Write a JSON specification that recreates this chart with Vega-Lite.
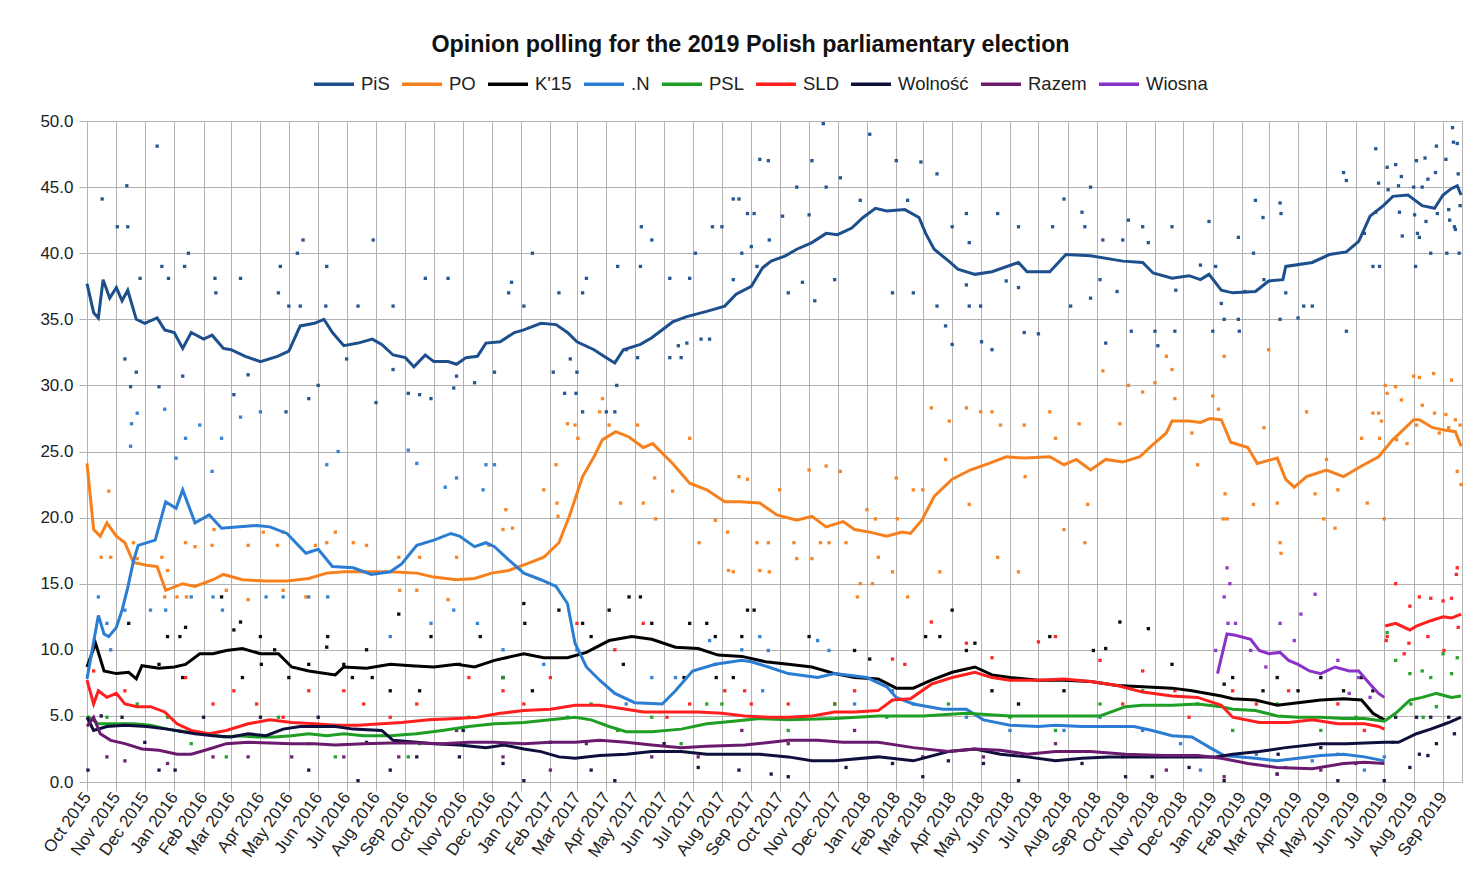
{
"$schema": "https://vega.github.io/schema/vega-lite/v6.json",
"autosize": {"type": "none"},
"width": 1375,
"height": 661,
"padding": {"left": 87, "top": 121, "right": 12, "bottom": 114},
"background": "white",
"title": {"text": "Opinion polling for the 2019 Polish parliamentary election", "font": "Liberation Sans", "fontSize": 23.3, "fontWeight": "bold", "color": "#111111", "anchor": "middle", "dx": -24, "offset": 5},
"config": {"font": "Liberation Sans", "view": {"stroke": "#b3b3b3", "strokeWidth": 1}},
"datasets": {
"lines": [
{"t":"2015-10-01","p":"PiS","v":37.7},{"t":"2015-10-08","p":"PiS","v":35.5},{"t":"2015-10-13","p":"PiS","v":35.1},{"t":"2015-10-18","p":"PiS","v":38},{"t":"2015-10-25","p":"PiS","v":36.6},{"t":"2015-11-01","p":"PiS","v":37.4},{"t":"2015-11-07","p":"PiS","v":36.4},{"t":"2015-11-13","p":"PiS","v":37.2},{"t":"2015-11-22","p":"PiS","v":35},{"t":"2015-12-01","p":"PiS","v":34.7},{"t":"2015-12-14","p":"PiS","v":35.1},{"t":"2015-12-22","p":"PiS","v":34.2},{"t":"2016-01-01","p":"PiS","v":34},{"t":"2016-01-10","p":"PiS","v":32.8},{"t":"2016-01-19","p":"PiS","v":34},{"t":"2016-02-01","p":"PiS","v":33.5},{"t":"2016-02-10","p":"PiS","v":33.8},{"t":"2016-02-22","p":"PiS","v":32.8},{"t":"2016-03-01","p":"PiS","v":32.7},{"t":"2016-03-16","p":"PiS","v":32.2},{"t":"2016-04-01","p":"PiS","v":31.8},{"t":"2016-04-19","p":"PiS","v":32.2},{"t":"2016-05-01","p":"PiS","v":32.6},{"t":"2016-05-13","p":"PiS","v":34.5},{"t":"2016-05-28","p":"PiS","v":34.7},{"t":"2016-06-07","p":"PiS","v":35},{"t":"2016-06-16","p":"PiS","v":34},{"t":"2016-06-28","p":"PiS","v":33},{"t":"2016-07-13","p":"PiS","v":33.2},{"t":"2016-07-28","p":"PiS","v":33.5},{"t":"2016-08-07","p":"PiS","v":33.1},{"t":"2016-08-19","p":"PiS","v":32.3},{"t":"2016-09-01","p":"PiS","v":32.1},{"t":"2016-09-10","p":"PiS","v":31.4},{"t":"2016-09-22","p":"PiS","v":32.3},{"t":"2016-10-01","p":"PiS","v":31.8},{"t":"2016-10-16","p":"PiS","v":31.8},{"t":"2016-10-25","p":"PiS","v":31.6},{"t":"2016-11-04","p":"PiS","v":32.1},{"t":"2016-11-16","p":"PiS","v":32.2},{"t":"2016-11-25","p":"PiS","v":33.2},{"t":"2016-12-10","p":"PiS","v":33.3},{"t":"2016-12-25","p":"PiS","v":34},{"t":"2017-01-04","p":"PiS","v":34.2},{"t":"2017-01-22","p":"PiS","v":34.7},{"t":"2017-02-07","p":"PiS","v":34.6},{"t":"2017-02-19","p":"PiS","v":34},{"t":"2017-03-01","p":"PiS","v":33.3},{"t":"2017-03-19","p":"PiS","v":32.7},{"t":"2017-04-01","p":"PiS","v":32.1},{"t":"2017-04-10","p":"PiS","v":31.7},{"t":"2017-04-19","p":"PiS","v":32.7},{"t":"2017-05-07","p":"PiS","v":33.1},{"t":"2017-05-19","p":"PiS","v":33.6},{"t":"2017-06-10","p":"PiS","v":34.8},{"t":"2017-06-25","p":"PiS","v":35.2},{"t":"2017-07-16","p":"PiS","v":35.6},{"t":"2017-08-04","p":"PiS","v":36},{"t":"2017-08-16","p":"PiS","v":36.9},{"t":"2017-09-01","p":"PiS","v":37.5},{"t":"2017-09-13","p":"PiS","v":38.9},{"t":"2017-09-22","p":"PiS","v":39.4},{"t":"2017-10-07","p":"PiS","v":39.8},{"t":"2017-10-19","p":"PiS","v":40.3},{"t":"2017-11-04","p":"PiS","v":40.8},{"t":"2017-11-19","p":"PiS","v":41.5},{"t":"2017-12-01","p":"PiS","v":41.4},{"t":"2017-12-16","p":"PiS","v":41.9},{"t":"2017-12-28","p":"PiS","v":42.7},{"t":"2018-01-10","p":"PiS","v":43.4},{"t":"2018-01-22","p":"PiS","v":43.2},{"t":"2018-02-10","p":"PiS","v":43.3},{"t":"2018-02-25","p":"PiS","v":42.7},{"t":"2018-03-04","p":"PiS","v":41.5},{"t":"2018-03-13","p":"PiS","v":40.3},{"t":"2018-03-30","p":"PiS","v":39.3},{"t":"2018-04-07","p":"PiS","v":38.8},{"t":"2018-04-25","p":"PiS","v":38.4},{"t":"2018-05-13","p":"PiS","v":38.6},{"t":"2018-06-10","p":"PiS","v":39.3},{"t":"2018-06-19","p":"PiS","v":38.6},{"t":"2018-07-13","p":"PiS","v":38.6},{"t":"2018-07-30","p":"PiS","v":39.9},{"t":"2018-08-25","p":"PiS","v":39.8},{"t":"2018-09-28","p":"PiS","v":39.4},{"t":"2018-10-19","p":"PiS","v":39.3},{"t":"2018-10-30","p":"PiS","v":38.5},{"t":"2018-11-19","p":"PiS","v":38.1},{"t":"2018-12-07","p":"PiS","v":38.3},{"t":"2018-12-19","p":"PiS","v":38},{"t":"2018-12-28","p":"PiS","v":38.4},{"t":"2019-01-10","p":"PiS","v":37.2},{"t":"2019-01-22","p":"PiS","v":37},{"t":"2019-02-15","p":"PiS","v":37.1},{"t":"2019-03-01","p":"PiS","v":37.9},{"t":"2019-03-16","p":"PiS","v":38},{"t":"2019-03-19","p":"PiS","v":39},{"t":"2019-04-16","p":"PiS","v":39.3},{"t":"2019-05-04","p":"PiS","v":39.9},{"t":"2019-05-22","p":"PiS","v":40.1},{"t":"2019-06-04","p":"PiS","v":40.9},{"t":"2019-06-16","p":"PiS","v":42.8},{"t":"2019-06-30","p":"PiS","v":43.6},{"t":"2019-07-10","p":"PiS","v":44.3},{"t":"2019-07-26","p":"PiS","v":44.4},{"t":"2019-08-10","p":"PiS","v":43.6},{"t":"2019-08-23","p":"PiS","v":43.4},{"t":"2019-09-01","p":"PiS","v":44.4},{"t":"2019-09-10","p":"PiS","v":44.9},{"t":"2019-09-16","p":"PiS","v":45.1},{"t":"2019-09-20","p":"PiS","v":44.4},
{"t":"2015-10-01","p":"PO","v":24.1},{"t":"2015-10-08","p":"PO","v":19.1},{"t":"2015-10-15","p":"PO","v":18.6},{"t":"2015-10-22","p":"PO","v":19.6},{"t":"2015-11-01","p":"PO","v":18.6},{"t":"2015-11-10","p":"PO","v":18.1},{"t":"2015-11-19","p":"PO","v":16.6},{"t":"2015-12-03","p":"PO","v":16.4},{"t":"2015-12-14","p":"PO","v":16.3},{"t":"2015-12-23","p":"PO","v":14.5},{"t":"2016-01-10","p":"PO","v":15},{"t":"2016-01-23","p":"PO","v":14.8},{"t":"2016-02-11","p":"PO","v":15.3},{"t":"2016-02-22","p":"PO","v":15.7},{"t":"2016-03-13","p":"PO","v":15.3},{"t":"2016-04-07","p":"PO","v":15.2},{"t":"2016-04-29","p":"PO","v":15.2},{"t":"2016-05-22","p":"PO","v":15.4},{"t":"2016-06-10","p":"PO","v":15.8},{"t":"2016-06-28","p":"PO","v":15.9},{"t":"2016-07-22","p":"PO","v":15.9},{"t":"2016-08-16","p":"PO","v":15.9},{"t":"2016-09-13","p":"PO","v":15.8},{"t":"2016-10-01","p":"PO","v":15.5},{"t":"2016-10-25","p":"PO","v":15.3},{"t":"2016-11-13","p":"PO","v":15.4},{"t":"2016-12-01","p":"PO","v":15.8},{"t":"2016-12-19","p":"PO","v":16},{"t":"2017-01-07","p":"PO","v":16.5},{"t":"2017-01-25","p":"PO","v":17},{"t":"2017-02-10","p":"PO","v":18.1},{"t":"2017-02-21","p":"PO","v":20.1},{"t":"2017-03-07","p":"PO","v":23.1},{"t":"2017-03-19","p":"PO","v":24.6},{"t":"2017-03-28","p":"PO","v":25.9},{"t":"2017-04-11","p":"PO","v":26.5},{"t":"2017-04-25","p":"PO","v":26.1},{"t":"2017-05-10","p":"PO","v":25.3},{"t":"2017-05-20","p":"PO","v":25.6},{"t":"2017-06-10","p":"PO","v":24.1},{"t":"2017-06-28","p":"PO","v":22.6},{"t":"2017-07-16","p":"PO","v":22.1},{"t":"2017-08-04","p":"PO","v":21.2},{"t":"2017-08-20","p":"PO","v":21.2},{"t":"2017-09-10","p":"PO","v":21.1},{"t":"2017-09-28","p":"PO","v":20.2},{"t":"2017-10-19","p":"PO","v":19.8},{"t":"2017-11-04","p":"PO","v":20.1},{"t":"2017-11-19","p":"PO","v":19.3},{"t":"2017-12-07","p":"PO","v":19.7},{"t":"2017-12-19","p":"PO","v":19.1},{"t":"2018-01-04","p":"PO","v":18.9},{"t":"2018-01-22","p":"PO","v":18.6},{"t":"2018-02-07","p":"PO","v":18.9},{"t":"2018-02-16","p":"PO","v":18.8},{"t":"2018-02-28","p":"PO","v":19.8},{"t":"2018-03-13","p":"PO","v":21.6},{"t":"2018-04-01","p":"PO","v":22.9},{"t":"2018-04-20","p":"PO","v":23.6},{"t":"2018-05-10","p":"PO","v":24.1},{"t":"2018-05-28","p":"PO","v":24.6},{"t":"2018-06-16","p":"PO","v":24.5},{"t":"2018-07-13","p":"PO","v":24.6},{"t":"2018-07-28","p":"PO","v":24},{"t":"2018-08-10","p":"PO","v":24.4},{"t":"2018-08-25","p":"PO","v":23.6},{"t":"2018-09-10","p":"PO","v":24.4},{"t":"2018-09-28","p":"PO","v":24.2},{"t":"2018-10-16","p":"PO","v":24.6},{"t":"2018-10-28","p":"PO","v":25.4},{"t":"2018-11-13","p":"PO","v":26.4},{"t":"2018-11-19","p":"PO","v":27.3},{"t":"2018-12-07","p":"PO","v":27.3},{"t":"2018-12-19","p":"PO","v":27.2},{"t":"2018-12-29","p":"PO","v":27.5},{"t":"2019-01-10","p":"PO","v":27.4},{"t":"2019-01-20","p":"PO","v":25.7},{"t":"2019-02-07","p":"PO","v":25.3},{"t":"2019-02-17","p":"PO","v":24.1},{"t":"2019-03-10","p":"PO","v":24.5},{"t":"2019-03-19","p":"PO","v":22.9},{"t":"2019-03-28","p":"PO","v":22.3},{"t":"2019-04-10","p":"PO","v":23.1},{"t":"2019-05-01","p":"PO","v":23.6},{"t":"2019-05-19","p":"PO","v":23.1},{"t":"2019-06-07","p":"PO","v":23.9},{"t":"2019-06-25","p":"PO","v":24.6},{"t":"2019-07-10","p":"PO","v":25.9},{"t":"2019-07-16","p":"PO","v":26.3},{"t":"2019-08-01","p":"PO","v":27.4},{"t":"2019-08-07","p":"PO","v":27.4},{"t":"2019-08-21","p":"PO","v":26.8},{"t":"2019-09-04","p":"PO","v":26.6},{"t":"2019-09-14","p":"PO","v":26.5},{"t":"2019-09-20","p":"PO","v":25.4},
{"t":"2015-10-01","p":"K'15","v":8.7},{"t":"2015-10-10","p":"K'15","v":10.5},{"t":"2015-10-19","p":"K'15","v":8.4},{"t":"2015-11-01","p":"K'15","v":8.2},{"t":"2015-11-14","p":"K'15","v":8.3},{"t":"2015-11-22","p":"K'15","v":7.8},{"t":"2015-11-28","p":"K'15","v":8.8},{"t":"2015-12-16","p":"K'15","v":8.6},{"t":"2016-01-01","p":"K'15","v":8.7},{"t":"2016-01-13","p":"K'15","v":8.9},{"t":"2016-01-28","p":"K'15","v":9.7},{"t":"2016-02-11","p":"K'15","v":9.7},{"t":"2016-02-25","p":"K'15","v":9.95},{"t":"2016-03-13","p":"K'15","v":10.1},{"t":"2016-04-01","p":"K'15","v":9.7},{"t":"2016-04-20","p":"K'15","v":9.7},{"t":"2016-05-04","p":"K'15","v":8.7},{"t":"2016-05-22","p":"K'15","v":8.4},{"t":"2016-06-19","p":"K'15","v":8.1},{"t":"2016-06-28","p":"K'15","v":8.7},{"t":"2016-07-22","p":"K'15","v":8.6},{"t":"2016-08-16","p":"K'15","v":8.9},{"t":"2016-09-07","p":"K'15","v":8.8},{"t":"2016-10-01","p":"K'15","v":8.7},{"t":"2016-10-25","p":"K'15","v":8.9},{"t":"2016-11-13","p":"K'15","v":8.7},{"t":"2016-12-04","p":"K'15","v":9.2},{"t":"2017-01-04","p":"K'15","v":9.7},{"t":"2017-01-25","p":"K'15","v":9.4},{"t":"2017-02-19","p":"K'15","v":9.4},{"t":"2017-03-11","p":"K'15","v":9.8},{"t":"2017-04-04","p":"K'15","v":10.7},{"t":"2017-04-28","p":"K'15","v":11},{"t":"2017-05-19","p":"K'15","v":10.8},{"t":"2017-06-13","p":"K'15","v":10.2},{"t":"2017-07-07","p":"K'15","v":10.1},{"t":"2017-07-28","p":"K'15","v":9.6},{"t":"2017-08-22","p":"K'15","v":9.5},{"t":"2017-09-16","p":"K'15","v":9.1},{"t":"2017-10-10","p":"K'15","v":8.9},{"t":"2017-11-04","p":"K'15","v":8.7},{"t":"2017-11-28","p":"K'15","v":8.2},{"t":"2017-12-19","p":"K'15","v":7.9},{"t":"2018-01-13","p":"K'15","v":7.8},{"t":"2018-02-01","p":"K'15","v":7.1},{"t":"2018-02-19","p":"K'15","v":7.1},{"t":"2018-03-10","p":"K'15","v":7.7},{"t":"2018-04-01","p":"K'15","v":8.3},{"t":"2018-04-25","p":"K'15","v":8.7},{"t":"2018-05-13","p":"K'15","v":8.1},{"t":"2018-06-01","p":"K'15","v":7.9},{"t":"2018-07-01","p":"K'15","v":7.7},{"t":"2018-07-28","p":"K'15","v":7.7},{"t":"2018-08-25","p":"K'15","v":7.6},{"t":"2018-09-22","p":"K'15","v":7.3},{"t":"2018-10-19","p":"K'15","v":7.2},{"t":"2018-11-19","p":"K'15","v":7.1},{"t":"2018-12-10","p":"K'15","v":6.9},{"t":"2019-01-10","p":"K'15","v":6.5},{"t":"2019-01-22","p":"K'15","v":6.3},{"t":"2019-02-15","p":"K'15","v":6.2},{"t":"2019-03-10","p":"K'15","v":5.8},{"t":"2019-04-01","p":"K'15","v":6},{"t":"2019-04-25","p":"K'15","v":6.2},{"t":"2019-05-19","p":"K'15","v":6.3},{"t":"2019-06-07","p":"K'15","v":6.2},{"t":"2019-06-19","p":"K'15","v":5.2},{"t":"2019-07-01","p":"K'15","v":4.7},
{"t":"2015-10-01","p":".N","v":7.8},{"t":"2015-10-13","p":".N","v":12.6},{"t":"2015-10-19","p":".N","v":11.2},{"t":"2015-10-24","p":".N","v":11},{"t":"2015-11-01","p":".N","v":11.7},{"t":"2015-11-07","p":".N","v":13},{"t":"2015-11-13","p":".N","v":14.7},{"t":"2015-11-19","p":".N","v":16.7},{"t":"2015-11-24","p":".N","v":17.9},{"t":"2015-12-12","p":".N","v":18.3},{"t":"2015-12-23","p":".N","v":21.2},{"t":"2016-01-03","p":".N","v":20.7},{"t":"2016-01-10","p":".N","v":22.1},{"t":"2016-01-23","p":".N","v":19.6},{"t":"2016-02-07","p":".N","v":20.2},{"t":"2016-02-20","p":".N","v":19.2},{"t":"2016-03-10","p":".N","v":19.3},{"t":"2016-03-28","p":".N","v":19.4},{"t":"2016-04-11","p":".N","v":19.3},{"t":"2016-04-29","p":".N","v":18.8},{"t":"2016-05-19","p":".N","v":17.3},{"t":"2016-06-01","p":".N","v":17.6},{"t":"2016-06-16","p":".N","v":16.3},{"t":"2016-07-08","p":".N","v":16.2},{"t":"2016-07-27","p":".N","v":15.7},{"t":"2016-08-16","p":".N","v":15.9},{"t":"2016-08-28","p":".N","v":16.5},{"t":"2016-09-13","p":".N","v":17.9},{"t":"2016-10-01","p":".N","v":18.3},{"t":"2016-10-19","p":".N","v":18.8},{"t":"2016-10-28","p":".N","v":18.6},{"t":"2016-11-13","p":".N","v":17.8},{"t":"2016-11-25","p":".N","v":18.1},{"t":"2016-12-04","p":".N","v":17.8},{"t":"2016-12-19","p":".N","v":16.8},{"t":"2017-01-04","p":".N","v":15.8},{"t":"2017-01-22","p":".N","v":15.3},{"t":"2017-02-07","p":".N","v":14.8},{"t":"2017-02-19","p":".N","v":13.5},{"t":"2017-02-27","p":".N","v":10.5},{"t":"2017-03-11","p":".N","v":8.7},{"t":"2017-03-25","p":".N","v":7.7},{"t":"2017-04-10","p":".N","v":6.7},{"t":"2017-05-01","p":".N","v":6},{"t":"2017-05-30","p":".N","v":5.9},{"t":"2017-06-13","p":".N","v":6.9},{"t":"2017-07-01","p":".N","v":8.4},{"t":"2017-07-25","p":".N","v":8.9},{"t":"2017-08-22","p":".N","v":9.2},{"t":"2017-09-01","p":".N","v":9.1},{"t":"2017-09-19","p":".N","v":8.7},{"t":"2017-10-10","p":".N","v":8.2},{"t":"2017-11-10","p":".N","v":7.9},{"t":"2017-11-28","p":".N","v":8.2},{"t":"2018-01-01","p":".N","v":7.9},{"t":"2018-01-22","p":".N","v":7.2},{"t":"2018-02-01","p":".N","v":6.4},{"t":"2018-02-19","p":".N","v":5.9},{"t":"2018-03-22","p":".N","v":5.5},{"t":"2018-04-16","p":".N","v":5.5},{"t":"2018-05-04","p":".N","v":4.7},{"t":"2018-06-01","p":".N","v":4.3},{"t":"2018-07-01","p":".N","v":4.2},{"t":"2018-07-19","p":".N","v":4.3},{"t":"2018-08-16","p":".N","v":4.2},{"t":"2018-09-13","p":".N","v":4.2},{"t":"2018-10-10","p":".N","v":4.2},{"t":"2018-10-29","p":".N","v":3.9},{"t":"2018-11-19","p":".N","v":3.5},{"t":"2018-12-10","p":".N","v":3.4},{"t":"2018-12-29","p":".N","v":2.6},{"t":"2019-01-13","p":".N","v":2},{"t":"2019-02-15","p":".N","v":1.8},{"t":"2019-03-10","p":".N","v":1.6},{"t":"2019-04-01","p":".N","v":1.8},{"t":"2019-04-25","p":".N","v":2},{"t":"2019-05-19","p":".N","v":2.1},{"t":"2019-06-10","p":".N","v":1.9},{"t":"2019-07-01","p":".N","v":1.6},
{"t":"2015-10-01","p":"PSL","v":5},{"t":"2015-10-13","p":"PSL","v":4.4},{"t":"2015-11-01","p":"PSL","v":4.4},{"t":"2015-11-19","p":"PSL","v":4.4},{"t":"2015-12-07","p":"PSL","v":4.3},{"t":"2015-12-25","p":"PSL","v":4},{"t":"2016-01-13","p":"PSL","v":3.8},{"t":"2016-02-02","p":"PSL","v":3.65},{"t":"2016-02-22","p":"PSL","v":3.4},{"t":"2016-03-10","p":"PSL","v":3.5},{"t":"2016-03-28","p":"PSL","v":3.4},{"t":"2016-04-16","p":"PSL","v":3.4},{"t":"2016-05-04","p":"PSL","v":3.5},{"t":"2016-05-22","p":"PSL","v":3.65},{"t":"2016-06-10","p":"PSL","v":3.5},{"t":"2016-06-28","p":"PSL","v":3.65},{"t":"2016-07-19","p":"PSL","v":3.5},{"t":"2016-08-16","p":"PSL","v":3.5},{"t":"2016-09-13","p":"PSL","v":3.65},{"t":"2016-10-10","p":"PSL","v":3.9},{"t":"2016-11-07","p":"PSL","v":4.2},{"t":"2016-12-04","p":"PSL","v":4.4},{"t":"2017-01-04","p":"PSL","v":4.5},{"t":"2017-02-01","p":"PSL","v":4.7},{"t":"2017-02-27","p":"PSL","v":4.9},{"t":"2017-03-16","p":"PSL","v":4.7},{"t":"2017-04-04","p":"PSL","v":4.2},{"t":"2017-04-22","p":"PSL","v":3.8},{"t":"2017-05-19","p":"PSL","v":3.8},{"t":"2017-06-19","p":"PSL","v":4},{"t":"2017-07-16","p":"PSL","v":4.4},{"t":"2017-08-13","p":"PSL","v":4.6},{"t":"2017-09-10","p":"PSL","v":4.8},{"t":"2017-10-10","p":"PSL","v":4.7},{"t":"2017-11-28","p":"PSL","v":4.8},{"t":"2018-01-13","p":"PSL","v":5},{"t":"2018-03-01","p":"PSL","v":5},{"t":"2018-04-16","p":"PSL","v":5.2},{"t":"2018-06-01","p":"PSL","v":5},{"t":"2018-07-19","p":"PSL","v":5},{"t":"2018-09-04","p":"PSL","v":5},{"t":"2018-10-01","p":"PSL","v":5.7},{"t":"2018-10-19","p":"PSL","v":5.8},{"t":"2018-11-19","p":"PSL","v":5.8},{"t":"2018-12-16","p":"PSL","v":5.9},{"t":"2019-01-10","p":"PSL","v":5.7},{"t":"2019-01-22","p":"PSL","v":5.5},{"t":"2019-02-15","p":"PSL","v":5.4},{"t":"2019-03-10","p":"PSL","v":5},{"t":"2019-04-01","p":"PSL","v":4.9},{"t":"2019-04-25","p":"PSL","v":4.9},{"t":"2019-05-19","p":"PSL","v":4.8},{"t":"2019-06-10","p":"PSL","v":4.8},{"t":"2019-07-01","p":"PSL","v":4.6},{"t":"2019-07-13","p":"PSL","v":5.2},{"t":"2019-07-28","p":"PSL","v":6.2},{"t":"2019-08-10","p":"PSL","v":6.4},{"t":"2019-08-25","p":"PSL","v":6.7},{"t":"2019-09-10","p":"PSL","v":6.4},{"t":"2019-09-20","p":"PSL","v":6.5},
{"t":"2015-10-01","p":"SLD","v":7.7},{"t":"2015-10-08","p":"SLD","v":5.9},{"t":"2015-10-13","p":"SLD","v":6.9},{"t":"2015-10-22","p":"SLD","v":6.4},{"t":"2015-11-01","p":"SLD","v":6.7},{"t":"2015-11-10","p":"SLD","v":5.9},{"t":"2015-11-23","p":"SLD","v":5.7},{"t":"2015-12-07","p":"SLD","v":5.7},{"t":"2015-12-22","p":"SLD","v":5.3},{"t":"2016-01-04","p":"SLD","v":4.4},{"t":"2016-01-19","p":"SLD","v":3.9},{"t":"2016-02-07","p":"SLD","v":3.65},{"t":"2016-02-25","p":"SLD","v":3.9},{"t":"2016-03-19","p":"SLD","v":4.4},{"t":"2016-04-11","p":"SLD","v":4.7},{"t":"2016-05-04","p":"SLD","v":4.5},{"t":"2016-05-28","p":"SLD","v":4.4},{"t":"2016-06-19","p":"SLD","v":4.3},{"t":"2016-07-13","p":"SLD","v":4.3},{"t":"2016-08-07","p":"SLD","v":4.4},{"t":"2016-08-28","p":"SLD","v":4.5},{"t":"2016-09-26","p":"SLD","v":4.7},{"t":"2016-10-25","p":"SLD","v":4.8},{"t":"2016-11-16","p":"SLD","v":4.9},{"t":"2016-12-10","p":"SLD","v":5.2},{"t":"2017-01-04","p":"SLD","v":5.4},{"t":"2017-02-01","p":"SLD","v":5.5},{"t":"2017-02-27","p":"SLD","v":5.8},{"t":"2017-03-25","p":"SLD","v":5.8},{"t":"2017-04-22","p":"SLD","v":5.5},{"t":"2017-05-10","p":"SLD","v":5.3},{"t":"2017-06-10","p":"SLD","v":5.3},{"t":"2017-07-07","p":"SLD","v":5.3},{"t":"2017-08-01","p":"SLD","v":5.2},{"t":"2017-08-25","p":"SLD","v":5},{"t":"2017-09-19","p":"SLD","v":4.9},{"t":"2017-10-10","p":"SLD","v":4.9},{"t":"2017-11-04","p":"SLD","v":5},{"t":"2017-11-28","p":"SLD","v":5.3},{"t":"2017-12-19","p":"SLD","v":5.3},{"t":"2018-01-13","p":"SLD","v":5.4},{"t":"2018-01-28","p":"SLD","v":6.2},{"t":"2018-02-16","p":"SLD","v":6.3},{"t":"2018-03-10","p":"SLD","v":7.4},{"t":"2018-04-01","p":"SLD","v":7.9},{"t":"2018-04-25","p":"SLD","v":8.3},{"t":"2018-05-13","p":"SLD","v":7.9},{"t":"2018-06-01","p":"SLD","v":7.7},{"t":"2018-07-01","p":"SLD","v":7.7},{"t":"2018-07-28","p":"SLD","v":7.8},{"t":"2018-08-25","p":"SLD","v":7.6},{"t":"2018-09-22","p":"SLD","v":7.3},{"t":"2018-10-19","p":"SLD","v":6.8},{"t":"2018-11-19","p":"SLD","v":6.5},{"t":"2018-12-16","p":"SLD","v":6.4},{"t":"2019-01-10","p":"SLD","v":5.8},{"t":"2019-01-22","p":"SLD","v":4.9},{"t":"2019-02-19","p":"SLD","v":4.5},{"t":"2019-03-22","p":"SLD","v":4.5},{"t":"2019-04-16","p":"SLD","v":4.7},{"t":"2019-05-13","p":"SLD","v":4.4},{"t":"2019-06-10","p":"SLD","v":4.4},{"t":"2019-06-25","p":"SLD","v":4.2},{"t":"2019-07-01","p":"SLD","v":4},
{"t":"2019-07-02","p":"SLD","v":11.8,"g":"b"},{"t":"2019-07-13","p":"SLD","v":12,"g":"b"},{"t":"2019-07-28","p":"SLD","v":11.5,"g":"b"},{"t":"2019-08-04","p":"SLD","v":11.8,"g":"b"},{"t":"2019-08-19","p":"SLD","v":12.2,"g":"b"},{"t":"2019-09-01","p":"SLD","v":12.5,"g":"b"},{"t":"2019-09-10","p":"SLD","v":12.4,"g":"b"},{"t":"2019-09-20","p":"SLD","v":12.7,"g":"b"},
{"t":"2015-10-01","p":"Wolność","v":4.9},{"t":"2015-10-08","p":"Wolność","v":3.9},{"t":"2015-10-22","p":"Wolność","v":4.2},{"t":"2015-11-10","p":"Wolność","v":4.3},{"t":"2015-12-03","p":"Wolność","v":4.2},{"t":"2015-12-25","p":"Wolność","v":4},{"t":"2016-01-10","p":"Wolność","v":3.8},{"t":"2016-01-23","p":"Wolność","v":3.65},{"t":"2016-02-11","p":"Wolność","v":3.5},{"t":"2016-03-01","p":"Wolność","v":3.4},{"t":"2016-03-19","p":"Wolność","v":3.65},{"t":"2016-04-07","p":"Wolność","v":3.5},{"t":"2016-04-25","p":"Wolność","v":4},{"t":"2016-05-13","p":"Wolność","v":4.2},{"t":"2016-06-01","p":"Wolność","v":4.2},{"t":"2016-06-19","p":"Wolność","v":4.2},{"t":"2016-07-08","p":"Wolność","v":4},{"t":"2016-08-07","p":"Wolność","v":3.9},{"t":"2016-08-19","p":"Wolność","v":3.15},{"t":"2016-09-13","p":"Wolność","v":3},{"t":"2016-10-01","p":"Wolność","v":2.9},{"t":"2016-10-28","p":"Wolność","v":2.8},{"t":"2016-11-25","p":"Wolność","v":2.6},{"t":"2016-12-14","p":"Wolność","v":2.8},{"t":"2017-01-04","p":"Wolność","v":2.5},{"t":"2017-01-22","p":"Wolność","v":2.3},{"t":"2017-02-10","p":"Wolność","v":1.9},{"t":"2017-02-27","p":"Wolność","v":1.8},{"t":"2017-03-25","p":"Wolność","v":2},{"t":"2017-04-22","p":"Wolność","v":2.1},{"t":"2017-05-19","p":"Wolność","v":2.3},{"t":"2017-06-19","p":"Wolność","v":2.3},{"t":"2017-07-16","p":"Wolność","v":2.1},{"t":"2017-08-13","p":"Wolność","v":2.1},{"t":"2017-09-10","p":"Wolność","v":2.1},{"t":"2017-10-10","p":"Wolność","v":1.9},{"t":"2017-11-04","p":"Wolność","v":1.6},{"t":"2017-11-28","p":"Wolność","v":1.6},{"t":"2018-01-13","p":"Wolność","v":1.9},{"t":"2018-02-19","p":"Wolność","v":1.6},{"t":"2018-03-28","p":"Wolność","v":2.3},{"t":"2018-04-25","p":"Wolność","v":2.5},{"t":"2018-05-22","p":"Wolność","v":2.1},{"t":"2018-06-19","p":"Wolność","v":1.9},{"t":"2018-07-19","p":"Wolność","v":1.6},{"t":"2018-08-16","p":"Wolność","v":1.8},{"t":"2018-09-13","p":"Wolność","v":1.9},{"t":"2018-10-10","p":"Wolność","v":1.9},{"t":"2018-11-10","p":"Wolność","v":1.9},{"t":"2018-12-07","p":"Wolność","v":1.9},{"t":"2019-01-04","p":"Wolność","v":1.9},{"t":"2019-01-22","p":"Wolność","v":2.1},{"t":"2019-02-19","p":"Wolność","v":2.3},{"t":"2019-03-19","p":"Wolność","v":2.6},{"t":"2019-04-25","p":"Wolność","v":2.9},{"t":"2019-05-22","p":"Wolność","v":2.9},{"t":"2019-07-01","p":"Wolność","v":3},{"t":"2019-07-16","p":"Wolność","v":3},{"t":"2019-08-04","p":"Wolność","v":3.65},{"t":"2019-08-19","p":"Wolność","v":4},{"t":"2019-09-07","p":"Wolność","v":4.5},{"t":"2019-09-20","p":"Wolność","v":4.9},
{"t":"2015-10-01","p":"Razem","v":4.2},{"t":"2015-10-08","p":"Razem","v":4.9},{"t":"2015-10-15","p":"Razem","v":3.65},{"t":"2015-10-26","p":"Razem","v":3.15},{"t":"2015-11-10","p":"Razem","v":2.9},{"t":"2015-11-28","p":"Razem","v":2.5},{"t":"2015-12-16","p":"Razem","v":2.4},{"t":"2016-01-04","p":"Razem","v":2.1},{"t":"2016-01-19","p":"Razem","v":2.1},{"t":"2016-02-07","p":"Razem","v":2.5},{"t":"2016-02-25","p":"Razem","v":2.9},{"t":"2016-03-19","p":"Razem","v":3},{"t":"2016-04-11","p":"Razem","v":2.95},{"t":"2016-05-04","p":"Razem","v":2.9},{"t":"2016-05-28","p":"Razem","v":2.9},{"t":"2016-06-19","p":"Razem","v":2.8},{"t":"2016-07-19","p":"Razem","v":2.9},{"t":"2016-08-16","p":"Razem","v":2.95},{"t":"2016-09-13","p":"Razem","v":2.95},{"t":"2016-10-10","p":"Razem","v":2.9},{"t":"2016-11-07","p":"Razem","v":3},{"t":"2016-12-04","p":"Razem","v":3},{"t":"2017-01-04","p":"Razem","v":2.9},{"t":"2017-02-01","p":"Razem","v":3},{"t":"2017-02-27","p":"Razem","v":3},{"t":"2017-03-25","p":"Razem","v":3.15},{"t":"2017-04-22","p":"Razem","v":3},{"t":"2017-05-19","p":"Razem","v":2.8},{"t":"2017-06-19","p":"Razem","v":2.6},{"t":"2017-07-16","p":"Razem","v":2.7},{"t":"2017-08-25","p":"Razem","v":2.8},{"t":"2017-10-10","p":"Razem","v":3.15},{"t":"2017-11-10","p":"Razem","v":3.15},{"t":"2017-12-07","p":"Razem","v":3},{"t":"2018-01-13","p":"Razem","v":3},{"t":"2018-02-19","p":"Razem","v":2.6},{"t":"2018-03-28","p":"Razem","v":2.3},{"t":"2018-04-25","p":"Razem","v":2.5},{"t":"2018-05-22","p":"Razem","v":2.4},{"t":"2018-06-19","p":"Razem","v":2.1},{"t":"2018-07-19","p":"Razem","v":2.3},{"t":"2018-08-25","p":"Razem","v":2.3},{"t":"2018-10-01","p":"Razem","v":2.1},{"t":"2018-11-10","p":"Razem","v":2},{"t":"2018-12-16","p":"Razem","v":2},{"t":"2019-01-10","p":"Razem","v":1.8},{"t":"2019-02-07","p":"Razem","v":1.4},{"t":"2019-03-10","p":"Razem","v":1.1},{"t":"2019-04-16","p":"Razem","v":1},{"t":"2019-05-19","p":"Razem","v":1.4},{"t":"2019-06-10","p":"Razem","v":1.5},{"t":"2019-07-01","p":"Razem","v":1.4},
{"t":"2019-01-06","p":"Wiosna","v":8.2},{"t":"2019-01-16","p":"Wiosna","v":11.2},{"t":"2019-01-25","p":"Wiosna","v":11.1},{"t":"2019-02-10","p":"Wiosna","v":10.8},{"t":"2019-02-19","p":"Wiosna","v":9.95},{"t":"2019-03-01","p":"Wiosna","v":9.7},{"t":"2019-03-13","p":"Wiosna","v":9.8},{"t":"2019-03-22","p":"Wiosna","v":9.2},{"t":"2019-04-01","p":"Wiosna","v":8.9},{"t":"2019-04-13","p":"Wiosna","v":8.4},{"t":"2019-04-25","p":"Wiosna","v":8.2},{"t":"2019-05-10","p":"Wiosna","v":8.7},{"t":"2019-05-25","p":"Wiosna","v":8.4},{"t":"2019-06-04","p":"Wiosna","v":8.4},{"t":"2019-06-16","p":"Wiosna","v":7.4},{"t":"2019-06-25","p":"Wiosna","v":6.7},{"t":"2019-07-01","p":"Wiosna","v":6.4}
],
"dots": [
{"t":"2015-10-17","p":"PiS","v":44.1},{"t":"2015-11-02","p":"PiS","v":42},{"t":"2015-11-13","p":"PiS","v":42},{"t":"2015-11-12","p":"PiS","v":45.1},{"t":"2015-12-14","p":"PiS","v":48.1},{"t":"2015-11-26","p":"PiS","v":38.1},{"t":"2015-12-19","p":"PiS","v":39},{"t":"2015-12-26","p":"PiS","v":38.1},{"t":"2016-01-16","p":"PiS","v":40},{"t":"2016-01-12","p":"PiS","v":39},{"t":"2016-02-13","p":"PiS","v":38.1},{"t":"2016-02-14","p":"PiS","v":37},{"t":"2016-03-11","p":"PiS","v":38.1},{"t":"2016-04-22","p":"PiS","v":39},{"t":"2016-04-20","p":"PiS","v":37},{"t":"2016-05-16","p":"PiS","v":41},{"t":"2016-05-10","p":"PiS","v":40},{"t":"2016-06-10","p":"PiS","v":39},{"t":"2016-05-01","p":"PiS","v":36},{"t":"2016-05-13","p":"PiS","v":36},{"t":"2016-06-09","p":"PiS","v":36},{"t":"2016-07-13","p":"PiS","v":36},{"t":"2016-08-19","p":"PiS","v":36},{"t":"2016-07-29","p":"PiS","v":41},{"t":"2016-09-22","p":"PiS","v":38.1},{"t":"2016-10-16","p":"PiS","v":38.1},{"t":"2016-12-22","p":"PiS","v":37.8},{"t":"2016-12-19","p":"PiS","v":37},{"t":"2017-01-04","p":"PiS","v":36},{"t":"2017-01-13","p":"PiS","v":40},{"t":"2017-02-10","p":"PiS","v":37},{"t":"2017-03-07","p":"PiS","v":37},{"t":"2017-03-11","p":"PiS","v":38.1},{"t":"2017-04-13","p":"PiS","v":39},{"t":"2017-05-07","p":"PiS","v":39},{"t":"2017-05-08","p":"PiS","v":42},{"t":"2017-05-19","p":"PiS","v":41},{"t":"2017-06-07","p":"PiS","v":38.1},{"t":"2017-06-28","p":"PiS","v":38.1},{"t":"2017-07-04","p":"PiS","v":40},{"t":"2017-07-22","p":"PiS","v":42},{"t":"2017-08-13","p":"PiS","v":44.1},{"t":"2017-08-28","p":"PiS","v":43},{"t":"2017-09-10","p":"PiS","v":47.1},{"t":"2017-09-07","p":"PiS","v":39},{"t":"2017-08-22","p":"PiS","v":40},
{"t":"2015-11-10","p":"PiS","v":32},{"t":"2015-11-22","p":"PiS","v":31},{"t":"2015-11-16","p":"PiS","v":29.9},{"t":"2015-12-16","p":"PiS","v":29.9},{"t":"2016-01-10","p":"PiS","v":30.7},{"t":"2016-03-04","p":"PiS","v":29.3},{"t":"2016-03-19","p":"PiS","v":30.8},{"t":"2016-04-28","p":"PiS","v":28},{"t":"2016-05-22","p":"PiS","v":29},{"t":"2016-06-01","p":"PiS","v":30},{"t":"2016-07-01","p":"PiS","v":32},{"t":"2016-08-01","p":"PiS","v":28.7},{"t":"2016-08-19","p":"PiS","v":31.2},{"t":"2016-09-04","p":"PiS","v":29.4},{"t":"2016-09-16","p":"PiS","v":29.3},{"t":"2016-09-28","p":"PiS","v":29},{"t":"2016-10-25","p":"PiS","v":30.7},{"t":"2016-10-22","p":"PiS","v":29.8},{"t":"2016-11-13","p":"PiS","v":30.2},{"t":"2016-12-04","p":"PiS","v":31},{"t":"2017-02-04","p":"PiS","v":31},{"t":"2017-02-22","p":"PiS","v":32},{"t":"2017-03-01","p":"PiS","v":31},{"t":"2017-02-16","p":"PiS","v":29.4},{"t":"2017-02-28","p":"PiS","v":29.4},{"t":"2017-03-07","p":"PiS","v":28},{"t":"2017-04-01","p":"PiS","v":28},{"t":"2017-04-10","p":"PiS","v":28},{"t":"2017-04-12","p":"PiS","v":30},{"t":"2017-04-22","p":"PiS","v":32.7},{"t":"2017-05-04","p":"PiS","v":32.1},{"t":"2017-06-07","p":"PiS","v":32.1},{"t":"2017-06-19","p":"PiS","v":32.1},{"t":"2017-07-10","p":"PiS","v":33.5},{"t":"2017-06-16","p":"PiS","v":33},{"t":"2017-06-25","p":"PiS","v":33.2},
{"t":"2017-11-16","p":"PiS","v":49.8},{"t":"2017-09-19","p":"PiS","v":47},{"t":"2017-11-04","p":"PiS","v":47},{"t":"2018-01-04","p":"PiS","v":49},{"t":"2018-02-01","p":"PiS","v":47},{"t":"2018-02-27","p":"PiS","v":46.9},{"t":"2017-10-19","p":"PiS","v":45},{"t":"2017-12-04","p":"PiS","v":45.7},{"t":"2017-11-19","p":"PiS","v":45},{"t":"2018-03-16","p":"PiS","v":46},{"t":"2017-08-19","p":"PiS","v":44.1},{"t":"2017-09-04","p":"PiS","v":43},{"t":"2017-10-04","p":"PiS","v":42.8},{"t":"2017-11-01","p":"PiS","v":42.9},{"t":"2017-12-25","p":"PiS","v":44},{"t":"2018-02-13","p":"PiS","v":44},{"t":"2017-08-01","p":"PiS","v":42},{"t":"2017-09-20","p":"PiS","v":41},{"t":"2017-09-01","p":"PiS","v":40.5},{"t":"2018-04-01","p":"PiS","v":42},{"t":"2018-04-16","p":"PiS","v":43},{"t":"2018-05-19","p":"PiS","v":43},{"t":"2018-04-19","p":"PiS","v":40.8},{"t":"2018-06-10","p":"PiS","v":42},{"t":"2018-07-16","p":"PiS","v":42},{"t":"2018-07-28","p":"PiS","v":44.1},{"t":"2018-08-16","p":"PiS","v":43.1},{"t":"2018-08-19","p":"PiS","v":42},{"t":"2018-08-25","p":"PiS","v":45},{"t":"2018-10-04","p":"PiS","v":42.5},{"t":"2018-10-19","p":"PiS","v":42},{"t":"2018-11-19","p":"PiS","v":42},{"t":"2018-09-07","p":"PiS","v":41},{"t":"2018-09-28","p":"PiS","v":41},{"t":"2018-10-25","p":"PiS","v":40.8},{"t":"2018-12-28","p":"PiS","v":42.4},{"t":"2019-01-28","p":"PiS","v":41.2},{"t":"2019-02-15","p":"PiS","v":44},{"t":"2019-02-23","p":"PiS","v":42.7},{"t":"2019-03-13","p":"PiS","v":43.8},{"t":"2019-03-14","p":"PiS","v":43},{"t":"2019-05-19","p":"PiS","v":46.1},{"t":"2019-05-22","p":"PiS","v":45.5},{"t":"2019-06-22","p":"PiS","v":47.9},{"t":"2019-06-10","p":"PiS","v":41.5},
{"t":"2017-07-19","p":"PiS","v":33.5},{"t":"2017-08-13","p":"PiS","v":38},{"t":"2017-10-10","p":"PiS","v":37},{"t":"2017-10-25","p":"PiS","v":37.8},{"t":"2017-11-07","p":"PiS","v":36.4},{"t":"2017-11-28","p":"PiS","v":38},{"t":"2018-02-19","p":"PiS","v":37},{"t":"2018-01-28","p":"PiS","v":37},{"t":"2018-03-16","p":"PiS","v":36},{"t":"2018-03-25","p":"PiS","v":34.5},{"t":"2018-04-01","p":"PiS","v":33.1},{"t":"2018-04-19","p":"PiS","v":36},{"t":"2018-05-01","p":"PiS","v":36},{"t":"2018-04-16","p":"PiS","v":37.6},{"t":"2018-05-02","p":"PiS","v":33.3},{"t":"2018-05-13","p":"PiS","v":32.7},{"t":"2018-05-28","p":"PiS","v":37.9},{"t":"2018-06-10","p":"PiS","v":37.4},{"t":"2018-06-16","p":"PiS","v":34},{"t":"2018-07-01","p":"PiS","v":33.9},{"t":"2018-08-04","p":"PiS","v":36},{"t":"2018-08-25","p":"PiS","v":36.6},{"t":"2018-09-04","p":"PiS","v":38},{"t":"2018-09-10","p":"PiS","v":33.2},{"t":"2018-09-22","p":"PiS","v":37.1},{"t":"2018-10-07","p":"PiS","v":34.1},{"t":"2018-11-01","p":"PiS","v":34.1},{"t":"2018-11-04","p":"PiS","v":33},{"t":"2018-11-22","p":"PiS","v":34.1},{"t":"2018-11-23","p":"PiS","v":37.2},{"t":"2018-12-19","p":"PiS","v":39.1},{"t":"2019-01-04","p":"PiS","v":39},{"t":"2019-01-01","p":"PiS","v":34.1},{"t":"2019-01-10","p":"PiS","v":36.2},{"t":"2019-01-13","p":"PiS","v":35},{"t":"2019-01-28","p":"PiS","v":35},{"t":"2019-01-29","p":"PiS","v":34.1},{"t":"2019-02-04","p":"PiS","v":37.1},{"t":"2019-02-13","p":"PiS","v":40},{"t":"2019-02-24","p":"PiS","v":38},{"t":"2019-03-13","p":"PiS","v":35},{"t":"2019-03-19","p":"PiS","v":37},{"t":"2019-04-01","p":"PiS","v":35.1},{"t":"2019-04-07","p":"PiS","v":36},{"t":"2019-04-16","p":"PiS","v":36},{"t":"2019-05-22","p":"PiS","v":34.1},{"t":"2019-06-19","p":"PiS","v":39},
{"t":"2019-09-11","p":"PiS","v":49.5},{"t":"2019-09-12","p":"PiS","v":48.4},{"t":"2019-09-16","p":"PiS","v":48.3},{"t":"2019-08-25","p":"PiS","v":48.1},{"t":"2019-08-04","p":"PiS","v":47},{"t":"2019-08-13","p":"PiS","v":47.2},{"t":"2019-09-04","p":"PiS","v":47.1},{"t":"2019-07-13","p":"PiS","v":46.7},{"t":"2019-07-04","p":"PiS","v":46.5},{"t":"2019-07-19","p":"PiS","v":45.8},{"t":"2019-08-16","p":"PiS","v":45.6},{"t":"2019-08-24","p":"PiS","v":46.1},{"t":"2019-09-17","p":"PiS","v":46},{"t":"2019-06-25","p":"PiS","v":45.3},{"t":"2019-07-05","p":"PiS","v":44.8},{"t":"2019-07-16","p":"PiS","v":45.1},{"t":"2019-08-01","p":"PiS","v":45},{"t":"2019-08-10","p":"PiS","v":45},{"t":"2019-09-07","p":"PiS","v":43.3},{"t":"2019-09-19","p":"PiS","v":43.6},{"t":"2019-09-08","p":"PiS","v":42.5},{"t":"2019-09-13","p":"PiS","v":42},{"t":"2019-09-14","p":"PiS","v":41.8},{"t":"2019-08-26","p":"PiS","v":43},{"t":"2019-08-14","p":"PiS","v":42.4},{"t":"2019-08-02","p":"PiS","v":42.9},{"t":"2019-07-17","p":"PiS","v":43.1},{"t":"2019-07-20","p":"PiS","v":41.3},{"t":"2019-08-05","p":"PiS","v":41.5},{"t":"2019-08-07","p":"PiS","v":41.2},{"t":"2019-08-19","p":"PiS","v":40},{"t":"2019-09-05","p":"PiS","v":40},{"t":"2019-09-18","p":"PiS","v":40},{"t":"2019-06-22","p":"PiS","v":43.1},{"t":"2019-06-26","p":"PiS","v":39},{"t":"2019-08-03","p":"PiS","v":39},
{"t":"2015-10-24","p":"PO","v":22},{"t":"2015-10-26","p":"PO","v":17},{"t":"2015-10-16","p":"PO","v":17},{"t":"2015-11-23","p":"PO","v":16.9},{"t":"2015-11-19","p":"PO","v":18.1},{"t":"2015-12-19","p":"PO","v":17},{"t":"2015-12-25","p":"PO","v":16},{"t":"2016-01-13","p":"PO","v":18.1},{"t":"2016-01-23","p":"PO","v":17.8},{"t":"2016-02-10","p":"PO","v":17.9},{"t":"2016-02-12","p":"PO","v":19.1},{"t":"2016-03-19","p":"PO","v":17.9},{"t":"2016-04-04","p":"PO","v":18.9},{"t":"2016-04-19","p":"PO","v":17.9},{"t":"2016-04-25","p":"PO","v":18.9},{"t":"2016-05-29","p":"PO","v":17.9},{"t":"2016-06-10","p":"PO","v":18.1},{"t":"2016-06-19","p":"PO","v":18.9},{"t":"2016-07-08","p":"PO","v":18.1},{"t":"2016-07-22","p":"PO","v":17.9},{"t":"2016-08-25","p":"PO","v":17},{"t":"2016-09-16","p":"PO","v":17},{"t":"2016-10-25","p":"PO","v":17},{"t":"2016-11-28","p":"PO","v":17.9},{"t":"2016-12-13","p":"PO","v":19.1},{"t":"2016-12-16","p":"PO","v":20.6},{"t":"2016-12-23","p":"PO","v":19.2},{"t":"2017-01-25","p":"PO","v":22.1},{"t":"2017-02-07","p":"PO","v":24},{"t":"2017-02-08","p":"PO","v":21.1},{"t":"2017-02-09","p":"PO","v":20.1},{"t":"2017-02-19","p":"PO","v":27.1},{"t":"2017-03-02","p":"PO","v":26},{"t":"2017-02-27","p":"PO","v":27},{"t":"2017-03-28","p":"PO","v":29},{"t":"2017-03-25","p":"PO","v":28},{"t":"2017-04-04","p":"PO","v":27},{"t":"2017-04-16","p":"PO","v":21.1},{"t":"2017-05-10","p":"PO","v":21.1},{"t":"2017-05-04","p":"PO","v":27},{"t":"2017-05-22","p":"PO","v":23},{"t":"2017-05-23","p":"PO","v":19.9},{"t":"2017-06-10","p":"PO","v":22},{"t":"2017-06-28","p":"PO","v":26},{"t":"2017-07-08","p":"PO","v":18.1},{"t":"2017-07-25","p":"PO","v":19.8},{"t":"2017-08-07","p":"PO","v":18.9},{"t":"2017-08-08","p":"PO","v":16},{"t":"2017-08-19","p":"PO","v":23.1},{"t":"2017-09-07","p":"PO","v":18.1},{"t":"2017-09-10","p":"PO","v":16},{"t":"2015-12-22","p":"PO","v":14},{"t":"2016-01-04","p":"PO","v":14},{"t":"2016-01-14","p":"PO","v":14},{"t":"2016-02-25","p":"PO","v":14.5},{"t":"2016-03-19","p":"PO","v":13.8},{"t":"2016-04-25","p":"PO","v":14.5},{"t":"2016-05-19","p":"PO","v":14},{"t":"2016-08-26","p":"PO","v":14.5},{"t":"2016-10-16","p":"PO","v":13.8},{"t":"2016-09-13","p":"PO","v":14.5},
{"t":"2017-08-28","p":"PO","v":22.9},{"t":"2017-11-01","p":"PO","v":23.6},{"t":"2017-11-19","p":"PO","v":23.9},{"t":"2017-12-04","p":"PO","v":23.5},{"t":"2017-10-01","p":"PO","v":22.1},{"t":"2018-02-01","p":"PO","v":23},{"t":"2017-08-13","p":"PO","v":15.9},{"t":"2017-09-19","p":"PO","v":18.1},{"t":"2017-09-20","p":"PO","v":15.9},{"t":"2017-10-16","p":"PO","v":18.1},{"t":"2017-10-19","p":"PO","v":16.9},{"t":"2017-11-04","p":"PO","v":16.9},{"t":"2017-11-13","p":"PO","v":18.1},{"t":"2017-11-22","p":"PO","v":18.1},{"t":"2017-12-10","p":"PO","v":18.1},{"t":"2017-12-25","p":"PO","v":15},{"t":"2018-01-07","p":"PO","v":15},{"t":"2017-12-22","p":"PO","v":14},{"t":"2018-01-13","p":"PO","v":17},{"t":"2018-01-28","p":"PO","v":15.9},{"t":"2018-02-13","p":"PO","v":14},{"t":"2018-02-02","p":"PO","v":19.9},{"t":"2018-01-01","p":"PO","v":20.6},{"t":"2018-01-10","p":"PO","v":19.9},{"t":"2018-02-19","p":"PO","v":22.1},{"t":"2018-03-01","p":"PO","v":22.1},{"t":"2018-03-19","p":"PO","v":15.9},{"t":"2018-03-10","p":"PO","v":28.3},{"t":"2018-03-25","p":"PO","v":24.4},{"t":"2018-03-29","p":"PO","v":27.3},{"t":"2018-04-16","p":"PO","v":28.3},{"t":"2018-05-01","p":"PO","v":28},{"t":"2018-05-13","p":"PO","v":28},{"t":"2018-05-22","p":"PO","v":27},{"t":"2018-06-16","p":"PO","v":27},{"t":"2018-04-19","p":"PO","v":21},{"t":"2018-05-19","p":"PO","v":17},{"t":"2018-06-10","p":"PO","v":15.9},{"t":"2018-06-17","p":"PO","v":23.1},{"t":"2018-07-13","p":"PO","v":28},{"t":"2018-07-19","p":"PO","v":26},{"t":"2018-08-13","p":"PO","v":27.1},{"t":"2018-07-28","p":"PO","v":19.1},{"t":"2018-08-19","p":"PO","v":18.1},{"t":"2018-08-22","p":"PO","v":21},{"t":"2018-09-07","p":"PO","v":31.1},{"t":"2018-09-25","p":"PO","v":27.1},{"t":"2018-10-04","p":"PO","v":30},{"t":"2018-10-19","p":"PO","v":29.5},{"t":"2018-11-01","p":"PO","v":30.2},{"t":"2018-11-13","p":"PO","v":32.2},{"t":"2018-11-19","p":"PO","v":31.2},{"t":"2018-11-22","p":"PO","v":29},{"t":"2018-12-10","p":"PO","v":26.4},{"t":"2018-12-16","p":"PO","v":24},{"t":"2019-01-01","p":"PO","v":29.2},{"t":"2019-01-07","p":"PO","v":28.2},{"t":"2019-01-13","p":"PO","v":32.2},{"t":"2019-01-14","p":"PO","v":21.8},{"t":"2019-01-12","p":"PO","v":19.9},{"t":"2019-01-16","p":"PO","v":19.9},{"t":"2019-02-13","p":"PO","v":21},{"t":"2019-02-24","p":"PO","v":26.8},{"t":"2019-03-01","p":"PO","v":32.7},{"t":"2019-03-13","p":"PO","v":18.1},{"t":"2019-03-14","p":"PO","v":17.3},{"t":"2019-03-10","p":"PO","v":21.1},{"t":"2019-04-10","p":"PO","v":28},{"t":"2019-04-19","p":"PO","v":21.8},{"t":"2019-05-01","p":"PO","v":24.4},{"t":"2019-04-28","p":"PO","v":19.9},{"t":"2019-05-10","p":"PO","v":19.2},{"t":"2019-05-13","p":"PO","v":22.1},{"t":"2019-06-07","p":"PO","v":26},{"t":"2019-06-13","p":"PO","v":21.1},{"t":"2019-06-19","p":"PO","v":27.9},
{"t":"2019-07-13","p":"PO","v":29.9},{"t":"2019-08-01","p":"PO","v":30.7},{"t":"2019-08-07","p":"PO","v":30.6},{"t":"2019-08-22","p":"PO","v":30.9},{"t":"2019-09-10","p":"PO","v":30.4},{"t":"2019-07-04","p":"PO","v":29.4},{"t":"2019-07-19","p":"PO","v":28.9},{"t":"2019-08-10","p":"PO","v":28.5},{"t":"2019-08-23","p":"PO","v":27.9},{"t":"2019-09-04","p":"PO","v":27.8},{"t":"2019-09-14","p":"PO","v":27.4},{"t":"2019-06-25","p":"PO","v":27.9},{"t":"2019-06-28","p":"PO","v":27.3},{"t":"2019-08-04","p":"PO","v":27},{"t":"2019-08-28","p":"PO","v":26.4},{"t":"2019-09-07","p":"PO","v":26.8},{"t":"2019-09-19","p":"PO","v":27},{"t":"2019-06-26","p":"PO","v":26},{"t":"2019-07-14","p":"PO","v":25.9},{"t":"2019-07-25","p":"PO","v":25.6},{"t":"2019-07-01","p":"PO","v":19.9},{"t":"2019-07-02","p":"PO","v":30},{"t":"2019-09-20","p":"PO","v":22.5},{"t":"2019-09-16","p":"PO","v":23.5},
{"t":"2015-11-14","p":"K'15","v":12},{"t":"2015-12-25","p":"K'15","v":11},{"t":"2016-01-07","p":"K'15","v":11},{"t":"2016-01-13","p":"K'15","v":11.7},{"t":"2016-02-20","p":"K'15","v":14},{"t":"2016-03-04","p":"K'15","v":11.5},{"t":"2016-03-11","p":"K'15","v":12.1},{"t":"2016-04-01","p":"K'15","v":11},{"t":"2016-04-16","p":"K'15","v":10},{"t":"2015-12-16","p":"K'15","v":8.9},{"t":"2016-01-10","p":"K'15","v":7.9},{"t":"2016-03-13","p":"K'15","v":7.9},{"t":"2016-04-02","p":"K'15","v":8.9},{"t":"2016-05-01","p":"K'15","v":7.9},{"t":"2016-05-22","p":"K'15","v":8.9},{"t":"2016-06-10","p":"K'15","v":10.2},{"t":"2016-06-11","p":"K'15","v":11},{"t":"2016-06-28","p":"K'15","v":8.9},{"t":"2016-07-07","p":"K'15","v":7.9},{"t":"2016-07-22","p":"K'15","v":10},{"t":"2016-07-28","p":"K'15","v":7.9},{"t":"2016-08-16","p":"K'15","v":6.9},{"t":"2016-08-25","p":"K'15","v":12.7},{"t":"2016-09-16","p":"K'15","v":6.9},{"t":"2016-09-28","p":"K'15","v":11},{"t":"2016-10-28","p":"K'15","v":8.9},{"t":"2016-11-19","p":"K'15","v":11},{"t":"2016-12-13","p":"K'15","v":7.9},{"t":"2017-01-04","p":"K'15","v":13.5},{"t":"2017-01-05","p":"K'15","v":12},{"t":"2017-01-13","p":"K'15","v":6.9},{"t":"2017-02-10","p":"K'15","v":13},{"t":"2017-03-07","p":"K'15","v":12},{"t":"2017-03-16","p":"K'15","v":11},{"t":"2017-04-04","p":"K'15","v":13},{"t":"2017-04-25","p":"K'15","v":14},{"t":"2017-05-07","p":"K'15","v":14},{"t":"2017-05-19","p":"K'15","v":12},{"t":"2017-06-28","p":"K'15","v":12},{"t":"2017-07-16","p":"K'15","v":12},{"t":"2017-07-25","p":"K'15","v":11},{"t":"2017-08-22","p":"K'15","v":11},{"t":"2017-08-28","p":"K'15","v":13},{"t":"2017-06-22","p":"K'15","v":7.9},{"t":"2017-07-26","p":"K'15","v":7.9},{"t":"2017-08-13","p":"K'15","v":7.9},{"t":"2017-04-19","p":"K'15","v":8.9},{"t":"2017-09-04","p":"K'15","v":13},{"t":"2017-11-01","p":"K'15","v":11},{"t":"2017-12-19","p":"K'15","v":9.95},{"t":"2018-01-04","p":"K'15","v":9.3},{"t":"2018-03-04","p":"K'15","v":11},{"t":"2018-03-19","p":"K'15","v":11},{"t":"2018-04-01","p":"K'15","v":13},{"t":"2018-04-16","p":"K'15","v":9.95},{"t":"2018-04-25","p":"K'15","v":10.5},{"t":"2018-07-13","p":"K'15","v":11},{"t":"2018-08-28","p":"K'15","v":9.95},{"t":"2018-09-10","p":"K'15","v":10.1},{"t":"2018-09-25","p":"K'15","v":12.1},{"t":"2018-10-25","p":"K'15","v":11.6},{"t":"2018-11-19","p":"K'15","v":8.9},{"t":"2019-01-13","p":"K'15","v":7.4},{"t":"2019-01-22","p":"K'15","v":7.9},{"t":"2019-02-23","p":"K'15","v":6.9},{"t":"2019-03-10","p":"K'15","v":7.9},{"t":"2019-04-01","p":"K'15","v":6.9},{"t":"2019-04-25","p":"K'15","v":7.9},{"t":"2019-05-19","p":"K'15","v":6.9},{"t":"2019-06-07","p":"K'15","v":7.9},{"t":"2019-06-19","p":"K'15","v":6.9},{"t":"2018-07-28","p":"K'15","v":6.9},{"t":"2018-06-10","p":"K'15","v":5.9},{"t":"2018-05-13","p":"K'15","v":6.9},
{"t":"2015-10-02","p":"Wolność","v":0.9},{"t":"2015-12-16","p":"Wolność","v":0.9},{"t":"2016-01-02","p":"Wolność","v":0.9},{"t":"2016-05-22","p":"Wolność","v":0.9},{"t":"2016-07-13","p":"Wolność","v":0.1},{"t":"2017-01-04","p":"Wolność","v":0.1},{"t":"2017-04-10","p":"Wolność","v":0.1},{"t":"2016-08-16","p":"Wolność","v":0.9},{"t":"2016-12-13","p":"Wolność","v":1.4},{"t":"2017-07-07","p":"Wolność","v":1.1},{"t":"2017-03-16","p":"Wolność","v":0.9},{"t":"2016-09-13","p":"Wolność","v":1.9},{"t":"2016-10-28","p":"Wolność","v":1.9},{"t":"2017-08-19","p":"Wolność","v":0.9},{"t":"2017-09-22","p":"Wolność","v":0.6},{"t":"2017-10-10","p":"Wolność","v":0.4},{"t":"2017-12-10","p":"Wolność","v":1.1},{"t":"2018-01-28","p":"Wolność","v":1.4},{"t":"2018-03-01","p":"Wolność","v":0.4},{"t":"2018-03-28","p":"Wolność","v":1.6},{"t":"2018-05-04","p":"Wolność","v":1.4},{"t":"2018-06-10","p":"Wolność","v":0.1},{"t":"2018-08-16","p":"Wolność","v":1.4},{"t":"2018-10-01","p":"Wolność","v":0.4},{"t":"2018-10-29","p":"Wolność","v":0.4},{"t":"2018-12-07","p":"Wolność","v":1.1},{"t":"2019-01-13","p":"Wolność","v":0.1},{"t":"2019-03-10","p":"Wolność","v":0.6},{"t":"2019-05-13","p":"Wolność","v":0.1},{"t":"2019-07-01","p":"Wolność","v":0.1},{"t":"2019-03-11","p":"Wolność","v":2.1},{"t":"2019-04-25","p":"Wolność","v":2.6},{"t":"2019-07-13","p":"Wolność","v":4.9},{"t":"2019-08-04","p":"Wolność","v":4.9},{"t":"2019-08-19","p":"Wolność","v":4.9},{"t":"2019-09-07","p":"Wolność","v":4.9},{"t":"2019-09-13","p":"Wolność","v":3.65},{"t":"2019-08-07","p":"Wolność","v":2.1},{"t":"2019-08-16","p":"Wolność","v":2},{"t":"2019-08-25","p":"Wolność","v":2.9},{"t":"2019-07-28","p":"Wolność","v":1.1},{"t":"2015-10-16","p":"Wolność","v":5},{"t":"2015-11-07","p":"Wolność","v":4.9},{"t":"2015-12-01","p":"Wolność","v":3},{"t":"2016-02-01","p":"Wolność","v":4.9},{"t":"2016-04-01","p":"Wolność","v":4.9},{"t":"2016-06-01","p":"Wolność","v":4.9},{"t":"2016-07-22","p":"Wolność","v":3},{"t":"2016-11-01","p":"Wolność","v":3.9},{"t":"2017-02-01","p":"Wolność","v":3},{"t":"2017-06-01","p":"Wolność","v":2.9},
{"t":"2015-11-23","p":".N","v":27.9},{"t":"2015-11-17","p":".N","v":27.1},{"t":"2015-11-16","p":".N","v":25.4},{"t":"2015-12-22","p":".N","v":28.2},{"t":"2016-01-03","p":".N","v":24.5},{"t":"2016-01-28","p":".N","v":27},{"t":"2016-01-13","p":".N","v":26},{"t":"2016-02-10","p":".N","v":23.5},{"t":"2016-02-20","p":".N","v":26},{"t":"2016-03-11","p":".N","v":27.6},{"t":"2016-04-01","p":".N","v":28},{"t":"2016-06-10","p":".N","v":24},{"t":"2016-06-22","p":".N","v":25},{"t":"2016-09-04","p":".N","v":25.1},{"t":"2016-09-13","p":".N","v":24.1},{"t":"2016-10-13","p":".N","v":22.3},{"t":"2016-10-25","p":".N","v":23},{"t":"2016-11-25","p":".N","v":24},{"t":"2016-12-04","p":".N","v":24},{"t":"2016-11-22","p":".N","v":22.1},{"t":"2015-10-13","p":".N","v":14},{"t":"2015-10-22","p":".N","v":12},{"t":"2015-10-26","p":".N","v":10},{"t":"2015-11-10","p":".N","v":13},{"t":"2015-12-07","p":".N","v":13},{"t":"2015-12-23","p":".N","v":13},{"t":"2016-01-19","p":".N","v":14},{"t":"2016-02-11","p":".N","v":14},{"t":"2016-02-21","p":".N","v":13},{"t":"2016-04-07","p":".N","v":14},{"t":"2016-04-25","p":".N","v":14},{"t":"2016-05-22","p":".N","v":14},{"t":"2016-06-11","p":".N","v":14},{"t":"2016-08-16","p":".N","v":11},{"t":"2016-09-28","p":".N","v":12},{"t":"2016-10-22","p":".N","v":13},{"t":"2016-11-16","p":".N","v":12},{"t":"2016-12-13","p":".N","v":10},{"t":"2017-01-25","p":".N","v":8.9},{"t":"2017-03-01","p":".N","v":10},{"t":"2017-04-22","p":".N","v":5.9},{"t":"2017-05-19","p":".N","v":7.9},{"t":"2017-06-13","p":".N","v":7.9},{"t":"2017-07-25","p":".N","v":8.9},{"t":"2017-08-22","p":".N","v":10},{"t":"2017-09-10","p":".N","v":11},{"t":"2017-07-19","p":".N","v":10.7},{"t":"2017-09-19","p":".N","v":9.95},{"t":"2017-11-10","p":".N","v":10.7},{"t":"2017-11-22","p":".N","v":9.95},{"t":"2017-09-13","p":".N","v":6.9},{"t":"2017-12-19","p":".N","v":5.9},{"t":"2018-01-28","p":".N","v":6.9},{"t":"2018-02-19","p":".N","v":5.9},{"t":"2018-04-16","p":".N","v":4.9},{"t":"2018-06-01","p":".N","v":3.9},{"t":"2018-07-28","p":".N","v":3.9},{"t":"2018-09-04","p":".N","v":4.9},{"t":"2018-10-19","p":".N","v":3.9},{"t":"2018-11-28","p":".N","v":2.9},{"t":"2018-12-19","p":".N","v":0.9},{"t":"2019-02-16","p":".N","v":2.1},{"t":"2019-03-19","p":".N","v":1.1},{"t":"2019-04-16","p":".N","v":1.6},{"t":"2019-05-13","p":".N","v":2.1},{"t":"2019-06-10","p":".N","v":0.9},{"t":"2019-07-01","p":".N","v":1.9},{"t":"2019-07-10","p":".N","v":3},
{"t":"2015-10-08","p":"SLD","v":8.4},{"t":"2015-11-10","p":"SLD","v":6.9},{"t":"2016-01-13","p":"SLD","v":7.9},{"t":"2016-02-11","p":"SLD","v":5.9},{"t":"2016-03-04","p":"SLD","v":6.9},{"t":"2016-03-28","p":"SLD","v":5.9},{"t":"2016-04-25","p":"SLD","v":4.9},{"t":"2016-05-22","p":"SLD","v":6.9},{"t":"2016-06-28","p":"SLD","v":6.9},{"t":"2016-07-19","p":"SLD","v":5.9},{"t":"2016-08-16","p":"SLD","v":4.9},{"t":"2016-09-13","p":"SLD","v":5.9},{"t":"2016-11-07","p":"SLD","v":7.9},{"t":"2016-12-13","p":"SLD","v":6.9},{"t":"2017-01-04","p":"SLD","v":5.9},{"t":"2017-02-01","p":"SLD","v":7.9},{"t":"2017-03-01","p":"SLD","v":12},{"t":"2017-05-10","p":"SLD","v":12},{"t":"2017-04-10","p":"SLD","v":10},{"t":"2017-06-04","p":"SLD","v":4.9},{"t":"2017-06-28","p":"SLD","v":5.9},{"t":"2017-08-04","p":"SLD","v":6.9},{"t":"2017-09-01","p":"SLD","v":5.9},{"t":"2018-03-10","p":"SLD","v":12.1},{"t":"2018-04-16","p":"SLD","v":10.5},{"t":"2018-05-13","p":"SLD","v":9.4},{"t":"2018-07-01","p":"SLD","v":10.6},{"t":"2018-07-19","p":"SLD","v":11},{"t":"2018-01-28","p":"SLD","v":9.3},{"t":"2018-02-10","p":"SLD","v":8.9},{"t":"2018-09-04","p":"SLD","v":9.2},{"t":"2018-10-19","p":"SLD","v":8.4},{"t":"2018-11-22","p":"SLD","v":6.9},{"t":"2019-01-22","p":"SLD","v":6.9},{"t":"2019-03-22","p":"SLD","v":6.9},{"t":"2019-05-13","p":"SLD","v":5.9},{"t":"2019-06-10","p":"SLD","v":3.9},{"t":"2019-02-16","p":"SLD","v":5.9},{"t":"2018-12-07","p":"SLD","v":4.9},{"t":"2018-09-28","p":"SLD","v":5.9},{"t":"2017-11-28","p":"SLD","v":5.9},{"t":"2017-10-10","p":"SLD","v":5.9},{"t":"2017-08-25","p":"SLD","v":6.9},{"t":"2017-12-19","p":"SLD","v":6.9},{"t":"2019-07-13","p":"SLD","v":15},{"t":"2019-08-07","p":"SLD","v":14},{"t":"2019-08-19","p":"SLD","v":13.9},{"t":"2019-09-01","p":"SLD","v":13.7},{"t":"2019-09-10","p":"SLD","v":13.9},{"t":"2019-09-15","p":"SLD","v":15.7},{"t":"2019-09-16","p":"SLD","v":16.2},{"t":"2019-07-28","p":"SLD","v":13.3},{"t":"2019-07-04","p":"SLD","v":11},{"t":"2019-07-22","p":"SLD","v":9.7},{"t":"2019-08-16","p":"SLD","v":11},{"t":"2019-09-02","p":"SLD","v":9.95},{"t":"2019-09-17","p":"SLD","v":11.7},{"t":"2019-07-03","p":"SLD","v":10.7},{"t":"2019-07-27","p":"SLD","v":10.5},
{"t":"2015-10-22","p":"PSL","v":4.9},{"t":"2015-11-23","p":"PSL","v":5.9},{"t":"2015-12-25","p":"PSL","v":4.9},{"t":"2016-01-19","p":"PSL","v":2.9},{"t":"2016-02-25","p":"PSL","v":1.9},{"t":"2016-04-20","p":"PSL","v":4.9},{"t":"2016-05-22","p":"PSL","v":2.9},{"t":"2016-06-19","p":"PSL","v":1.9},{"t":"2016-09-04","p":"PSL","v":1.9},{"t":"2016-09-16","p":"PSL","v":2.9},{"t":"2016-11-07","p":"PSL","v":4.9},{"t":"2016-12-13","p":"PSL","v":7.9},{"t":"2017-02-19","p":"PSL","v":4.9},{"t":"2017-03-16","p":"PSL","v":5.9},{"t":"2017-04-13","p":"PSL","v":3.9},{"t":"2017-05-19","p":"PSL","v":4.9},{"t":"2017-06-19","p":"PSL","v":2.9},{"t":"2017-07-16","p":"PSL","v":5.9},{"t":"2017-08-01","p":"PSL","v":5.9},{"t":"2017-10-10","p":"PSL","v":3.9},{"t":"2017-11-28","p":"PSL","v":5.9},{"t":"2018-01-22","p":"PSL","v":4.9},{"t":"2018-03-28","p":"PSL","v":5.9},{"t":"2018-06-01","p":"PSL","v":4.9},{"t":"2018-07-19","p":"PSL","v":3.9},{"t":"2018-09-04","p":"PSL","v":5.9},{"t":"2018-10-19","p":"PSL","v":6.9},{"t":"2018-12-16","p":"PSL","v":5.9},{"t":"2019-01-22","p":"PSL","v":3.9},{"t":"2019-03-10","p":"PSL","v":5.9},{"t":"2019-04-25","p":"PSL","v":3.9},{"t":"2019-06-01","p":"PSL","v":4.9},{"t":"2019-07-04","p":"PSL","v":11.3},{"t":"2019-07-13","p":"PSL","v":9.2},{"t":"2019-07-28","p":"PSL","v":8.2},{"t":"2019-08-10","p":"PSL","v":8.4},{"t":"2019-08-19","p":"PSL","v":7.9},{"t":"2019-09-01","p":"PSL","v":9.7},{"t":"2019-09-10","p":"PSL","v":8.2},{"t":"2019-09-16","p":"PSL","v":9.4},{"t":"2019-08-11","p":"PSL","v":4.9},{"t":"2019-08-25","p":"PSL","v":5.7},{"t":"2019-07-29","p":"PSL","v":5.9},
{"t":"2015-10-22","p":"Razem","v":1.9},{"t":"2015-11-10","p":"Razem","v":1.6},{"t":"2015-12-25","p":"Razem","v":1.4},{"t":"2016-02-11","p":"Razem","v":1.9},{"t":"2016-03-19","p":"Razem","v":1.9},{"t":"2016-05-04","p":"Razem","v":1.9},{"t":"2016-06-28","p":"Razem","v":1.9},{"t":"2016-08-25","p":"Razem","v":1.9},{"t":"2016-10-25","p":"Razem","v":3.9},{"t":"2016-12-13","p":"Razem","v":1.9},{"t":"2017-02-01","p":"Razem","v":0.9},{"t":"2017-03-11","p":"Razem","v":2.9},{"t":"2017-05-19","p":"Razem","v":1.9},{"t":"2017-07-07","p":"Razem","v":1.9},{"t":"2017-08-22","p":"Razem","v":3.9},{"t":"2017-10-10","p":"Razem","v":2.9},{"t":"2017-12-19","p":"Razem","v":3.9},{"t":"2018-03-01","p":"Razem","v":1.9},{"t":"2018-05-04","p":"Razem","v":1.9},{"t":"2018-07-19","p":"Razem","v":2.9},{"t":"2018-09-28","p":"Razem","v":1.9},{"t":"2018-11-13","p":"Razem","v":0.9},{"t":"2019-01-13","p":"Razem","v":0.4},{"t":"2019-03-10","p":"Razem","v":0.6},{"t":"2019-04-25","p":"Razem","v":0.9},{"t":"2019-06-01","p":"Razem","v":1.4},
{"t":"2019-01-16","p":"Wiosna","v":16.2},{"t":"2019-01-19","p":"Wiosna","v":15},{"t":"2019-01-13","p":"Wiosna","v":14},{"t":"2019-01-17","p":"Wiosna","v":12},{"t":"2019-01-25","p":"Wiosna","v":12},{"t":"2019-01-04","p":"Wiosna","v":9.95},{"t":"2019-04-04","p":"Wiosna","v":12.7},{"t":"2019-04-19","p":"Wiosna","v":14.2},{"t":"2019-03-13","p":"Wiosna","v":12},{"t":"2019-03-28","p":"Wiosna","v":10.7},{"t":"2019-05-13","p":"Wiosna","v":9.2},{"t":"2019-06-04","p":"Wiosna","v":7.9},{"t":"2019-06-16","p":"Wiosna","v":6.4},{"t":"2019-05-25","p":"Wiosna","v":6.7},{"t":"2019-02-26","p":"Wiosna","v":8.7},{"t":"2019-02-10","p":"Wiosna","v":9.95}
]
},
"encoding": {
"x": {"field": "t", "type": "temporal",
 "scale": {"type": "utc", "domain": [{"year": 2015, "month": 10, "date": 1, "utc": true}, {"year": 2019, "month": 9, "date": 21, "utc": true}]},
 "axis": {"title": null, "format": "%b %Y", "tickCount": {"interval": "month", "step": 1}, "labelAngle": -55, "labelFont": "Liberation Sans", "labelFontSize": 17, "labelColor": "#222222", "labelOverlap": false, "labelFlush": false, "labelPadding": 3, "grid": true, "gridColor": "#b3b3b3", "gridWidth": 1, "tickColor": "#b3b3b3", "tickSize": 9, "domain": false}},
"y": {"field": "v", "type": "quantitative",
 "scale": {"domain": [0, 50], "nice": false, "zero": true},
 "axis": {"title": null, "values": [0, 5, 10, 15, 20, 25, 30, 35, 40, 45, 50], "format": ".1f", "labelFont": "Liberation Sans", "labelFontSize": 17, "labelColor": "#222222", "labelPadding": 6, "grid": true, "gridColor": "#b3b3b3", "gridWidth": 1, "tickColor": "#b3b3b3", "tickSize": 8, "domain": false}},
"color": {"field": "p", "type": "nominal",
 "scale": {"domain": ["PiS", "PO", "K'15", ".N", "PSL", "SLD", "Wolność", "Razem", "Wiosna"], "range": ["#1c4f8c", "#f7801e", "#000000", "#2b7cd3", "#1f9e24", "#ff1f1f", "#0f0f3d", "#6a1b6e", "#8a32c8"]},
 "legend": {"title": null, "orient": "none", "legendX": 225, "legendY": -59, "direction": "horizontal", "symbolType": "stroke", "symbolSize": 1600, "symbolStrokeWidth": 3.5, "labelFont": "Liberation Sans", "labelFontSize": 18.5, "labelColor": "#222222", "labelOffset": 5, "columnPadding": 5, "padding": 0,
  "encode": {"symbols": {"update": {"stroke": {"scale": "color", "field": "value"}, "strokeWidth": {"value": 3.5}}}}}}
},
"layer": [
{"data": {"name": "dots"}, "mark": {"type": "point", "shape": "square", "filled": true, "size": 11, "opacity": 0.95}},
{"data": {"name": "lines"}, "mark": {"type": "line", "strokeWidth": 3}, "encoding": {"detail": {"field": "g", "type": "nominal"}}}
]
}
